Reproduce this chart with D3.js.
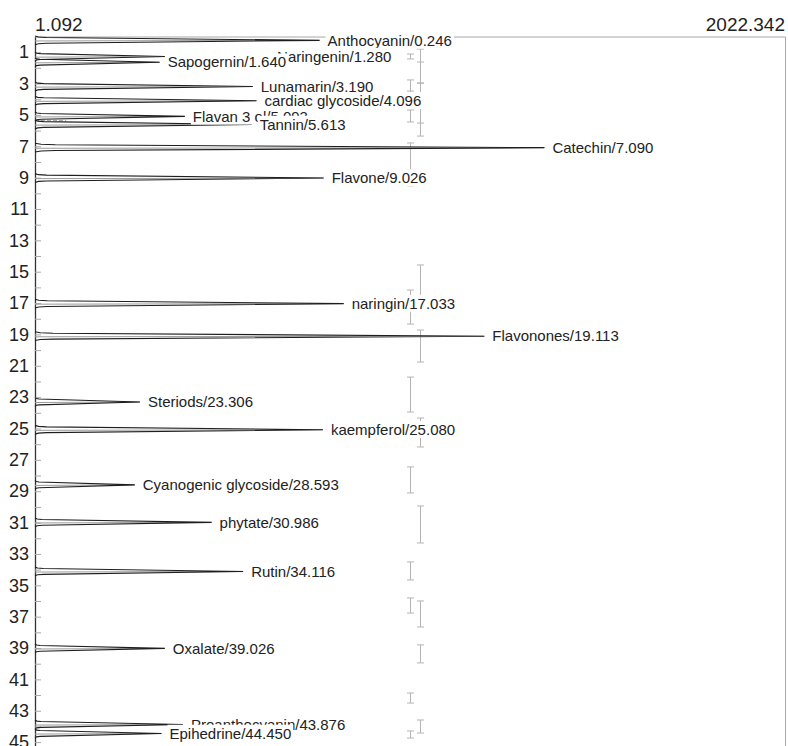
<!DOCTYPE html>
<meta charset="utf-8">
<style>
  body { margin: 0; background: #fff; }
  svg { display: block; font-family: "Liberation Sans", Arial, sans-serif; }
</style>
<svg width="788" height="746"></svg>
<script src="https://d3js.org/d3.v7.min.js"></script>
<script>

    /* --------------------
     Data
   -------------------- */

    // peak name, retention time (min) and height
    var compounds = ["Anthocyanin", "Naringenin", "Sapogernin", "Lunamarin", "cardiac glycoside",
        "Flavan 3 ol", "Tannin", "Catechin", "Flavone", "naringin", "Flavonones", "Steriods",
        "kaempferol", "Cyanogenic glycoside", "phytate", "Rutin", "Oxalate", "Proanthocyanin", "Epihedrine"];
    var retention = [0.246, 1.280, 1.640, 3.190, 4.096, 5.093, 5.613, 7.090, 9.026, 17.033, 19.113,
        23.306, 25.080, 28.593, 30.986, 34.116, 39.026, 43.876, 44.450];
    var intensity = [768, 351, 337, 588, 598, 405, 585, 1374, 779, 833, 1212, 284, 777, 270, 477,
        562, 351, 400, 342];

    // intensity range printed on top
    var intensityRange = [1.092, 2022.342];

    // error bars (time from, time to), two columns
    var barLevels = [1011, 1040];
    var barsA = [[1.12, 1.43], [2.77, 3.60], [3.48, 4.05], [4.69, 5.45], [6.79, 8.51], [8.83, 9.53],
        [16.17, 18.34], [21.72, 23.95], [27.45, 29.11], [33.51, 34.66], [35.81, 36.77],
        [41.87, 42.51], [44.29, 44.74]];
    var barsB = [[0.80, 2.97], [1.63, 5.52], [2.97, 6.35], [14.57, 16.81], [18.72, 20.76],
        [24.33, 26.18], [29.94, 32.30], [36.00, 37.66], [38.80, 39.95], [43.59, 44.42]];

    /* --------------------
     Setup
   -------------------- */

    var svg = d3.select("svg"),
        width = +svg.attr("width"),
        height = +svg.attr("height");

    var x = d3.scaleLinear().domain(intensityRange).range([35, 785]);
    var y = d3.scaleLinear().domain([0, 45.3]).range([36.5, 746.8]);

    var peaks = compounds.map(function(d, i) {
        return { name: d, t: retention[i], h: intensity[i] };
    });

    // frame (top + right)
    svg.append("path")
        .attr("d", "M" + x.range()[0] + "," + (y(0) + 0.5) + "H" + (x.range()[1] + 0.5) + "V" + height)
        .attr("fill", "none")
        .attr("stroke", "#a8a8a8");

    // range labels
    svg.append("text")
        .attr("x", x.range()[0])
        .attr("y", 30.5)
        .attr("font-size", 19)
        .attr("fill", "#222")
        .text(d3.format(".3f")(intensityRange[0]));

    svg.append("text")
        .attr("x", x.range()[1])
        .attr("y", 30.5)
        .attr("text-anchor", "end")
        .attr("font-size", 19)
        .attr("fill", "#222")
        .text(d3.format(".3f")(intensityRange[1]));

    // Time axis
    var axis = svg.append("g")
        .attr("transform", "translate(" + x.range()[0] + ",0)")
        .call(d3.axisLeft(y)
            .tickValues(d3.range(0, 46))
            .tickSizeInner(-6)
            .tickSizeOuter(0)
            .tickPadding(6)
            .tickFormat(function(d) { return d % 2 ? d : ""; }));

    axis.select(".domain").attr("stroke", "#333").attr("stroke-width", 1.3);
    axis.selectAll(".tick line").attr("stroke", "#aaa");
    axis.selectAll(".tick text")
        .attr("font-size", 18)
        .attr("font-family", "Liberation Sans, Arial, sans-serif")
        .attr("fill", "#222");

    /* --------------------
     Error bars
   -------------------- */

    var cap = 3.5;
    [barsA, barsB].forEach(function(bars, k) {
        svg.append("g")
            .selectAll("path")
            .data(bars)
            .enter().append("path")
            .attr("d", function(d) {
                var bx = Math.round(x(barLevels[k])) + 0.5,
                    y0 = y(d[0]), y1 = y(d[1]);
                return "M" + (bx - cap) + "," + y0 + "H" + (bx + cap) +
                    "M" + bx + "," + y0 + "V" + y1 +
                    "M" + (bx - cap) + "," + y1 + "H" + (bx + cap);
            })
            .attr("fill", "none")
            .attr("stroke", "#b4b4b4")
            .attr("stroke-width", 1);
    });

    /* --------------------
     Peaks
   -------------------- */

    // valley drop lines between peaks that run into each other
    var drops = d3.pairs(peaks).filter(function(p) { return p[1].t - p[0].t < 0.55; });
    svg.append("g")
        .selectAll("line")
        .data(drops)
        .enter().append("line")
        .attr("x1", x(intensityRange[0]))
        .attr("x2", x(85))
        .attr("y1", function(p) { return y((p[0].t + p[1].t) / 2); })
        .attr("y2", function(p) { return y((p[0].t + p[1].t) / 2); })
        .attr("stroke", "#aaa")
        .attr("stroke-dasharray", "4,2");

    var peakLine = d3.line()
        .x(function(d) { return x(d[0]); })
        .y(function(d) { return y(d[1]); });

    function peakShape(p) {
        var b = intensityRange[0];
        return [
            [b, p.t - 0.28],
            [b + p.h * 0.012, p.t - 0.215],
            [b + p.h * 0.04, p.t - 0.185],
            [p.h, p.t],
            [b + p.h * 0.04, p.t + 0.185],
            [b + p.h * 0.012, p.t + 0.215],
            [b, p.t + 0.28]
        ];
    }

    var peakG = svg.append("g");

    // second trace, light grey, along the middle of each peak
    peakG.selectAll(".mid")
        .data(peaks)
        .enter().append("line")
        .attr("class", "mid")
        .attr("x1", x(intensityRange[0]))
        .attr("x2", function(d) { return x(d.h); })
        .attr("y1", function(d) { return y(d.t) + 0.6; })
        .attr("y2", function(d) { return y(d.t); })
        .attr("stroke", "#9a9a9a")
        .attr("stroke-width", 1);

    peakG.selectAll(".peak")
        .data(peaks)
        .enter().append("path")
        .attr("class", "peak")
        .attr("d", function(d) { return peakLine(peakShape(d)); })
        .attr("fill", "none")
        .attr("stroke", "#1e1e1e")
        .attr("stroke-width", 1.1)
        .attr("stroke-linejoin", "miter");

    /* --------------------
     Labels
   -------------------- */

    var labels = svg.append("g")
        .selectAll("g")
        .data(peaks)
        .enter().append("g");

    labels.append("rect").attr("fill", "#fff");

    labels.append("text")
        .attr("font-size", 15)
        .attr("fill", "#222")
        .attr("dy", "0.35em")
        .attr("y", function(d) { return y(d.t); })
        .attr("x", function(d) { return x(d.h) + 8; })
        .text(function(d) { return d.name + "/" + d3.format(".3f")(d.t); });

    // push a label to the right when the next one sits on top of it
    var texts = labels.select("text").nodes();
    texts.forEach(function(node, i) {
        var next = texts[i + 1];
        if (!next) return;
        var a = node.getBBox(), b = next.getBBox();
        var overlapX = a.x < b.x + b.width && b.x < a.x + a.width;
        if (overlapX && Math.abs(peaks[i + 1].t - peaks[i].t) * 15.68 < 7) {
            d3.select(node).attr("x", b.x + b.width - 9);
        }
    });

    labels.each(function() {
        var g = d3.select(this),
            bb = g.select("text").node().getBBox();
        g.select("rect")
            .attr("x", bb.x - 2)
            .attr("y", bb.y)
            .attr("width", bb.width + 4)
            .attr("height", bb.height);
    });

</script>
